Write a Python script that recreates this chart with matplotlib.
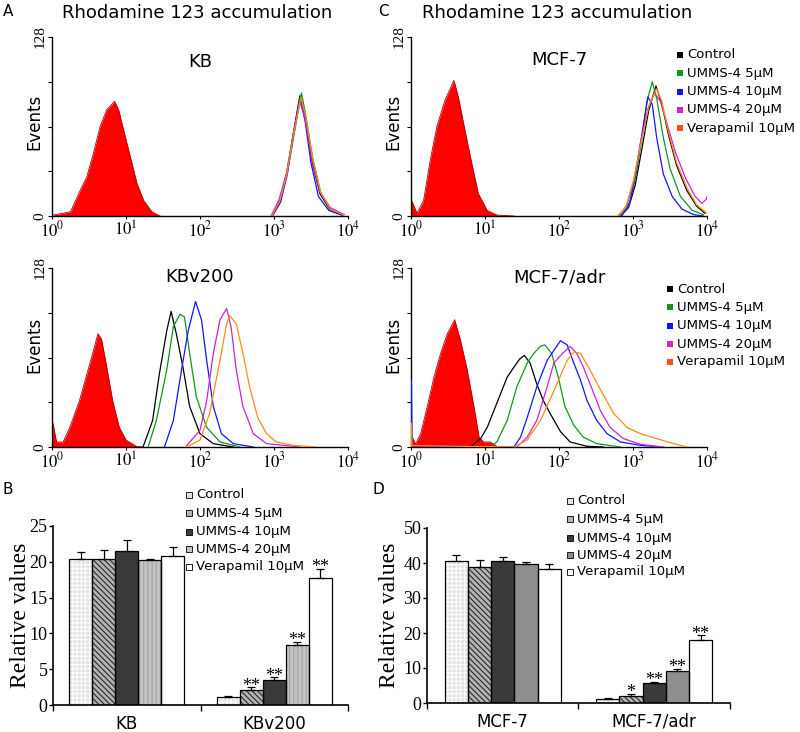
import matplotlib
matplotlib.use("Agg")
import matplotlib.pyplot as plt
from matplotlib.patches import Rectangle
from matplotlib.ticker import NullLocator
import numpy as np

plt.rcParams['font.family'] = ['DejaVu Sans']
plt.rcParams['mathtext.fontset'] = 'stix'
plt.rcParams['hatch.linewidth'] = 0.8

# ---------------- data ----------------
series_names = ["Control", "UMMS-4 5\u03bcM", "UMMS-4 10\u03bcM", "UMMS-4 20\u03bcM", "Verapamil 10\u03bcM"]
x_tick_labels = ["$10^{0}$", "$10^{1}$", "$10^{2}$", "$10^{3}$", "$10^{4}$"]

# Histograms: (log10 fluorescence, events)
KB_red = ([0.0, 0.02, 0.25, 0.36, 0.47, 0.56, 0.65, 0.74, 0.845, 0.9, 0.97, 1.06, 1.15, 1.24, 1.35, 1.46],
          [0, 0.7, 3, 16, 28, 45, 64, 76, 82, 76, 61, 42, 23, 11, 3, 0])
KB_ctrl = ([2.97, 3.08, 3.17, 3.26, 3.35, 3.42, 3.51, 3.62, 3.75, 3.93], [0, 11, 30, 59, 86, 71, 40, 16, 5, 0.7])
KB_5 = ([2.97, 3.08, 3.17, 3.27, 3.37, 3.43, 3.52, 3.63, 3.76, 3.93], [0, 10, 28, 58, 88, 72, 42, 17, 5, 0.5])
KB_10 = ([2.98, 3.09, 3.18, 3.27, 3.35, 3.42, 3.50, 3.60, 3.74, 3.92], [0, 10, 30, 60, 84, 68, 38, 14, 4, 0.5])
KB_20 = ([2.96, 3.07, 3.17, 3.26, 3.35, 3.42, 3.51, 3.62, 3.76, 3.95], [0, 12, 31, 58, 82, 70, 41, 17, 6, 1])
KB_vera = ([2.97, 3.08, 3.17, 3.26, 3.36, 3.43, 3.52, 3.63, 3.76, 3.94], [0, 11, 29, 57, 85, 71, 42, 17, 5, 0.8])

KBv_red = ([0.0, 0.014, 0.06, 0.15, 0.24, 0.37, 0.46, 0.55, 0.62, 0.67, 0.73, 0.82, 0.91, 1.0, 1.14, 1.23],
           [0, 17, 3.6, 3.6, 14, 33, 50, 67, 81, 77, 60, 33, 14, 5, 0.5, 0])
KBv_ctrl = ([1.23, 1.36, 1.45, 1.55, 1.61, 1.68, 1.77, 1.86, 2.0, 2.18, 2.45], [0, 19, 52, 83, 97, 81, 57, 29, 9.5, 2.4, 0])
KBv_5 = ([1.30, 1.41, 1.55, 1.64, 1.73, 1.79, 1.86, 1.95, 2.09, 2.27, 2.54], [0, 19, 55, 86, 95, 93, 67, 36, 14, 3.6, 0])
KBv_10 = ([1.52, 1.64, 1.75, 1.84, 1.94, 2.02, 2.09, 2.18, 2.29, 2.45, 2.72], [0, 19, 55, 83, 104, 91, 62, 29, 9.5, 2.4, 0])
KBv_20 = ([1.82, 2.0, 2.09, 2.18, 2.27, 2.36, 2.42, 2.49, 2.58, 2.72, 2.9, 3.35], [1, 12, 33, 67, 91, 99, 86, 55, 29, 9.5, 2.4, 0])
KBv_vera = ([1.82, 2.0, 2.13, 2.27, 2.36, 2.40, 2.49, 2.58, 2.67, 2.78, 2.9, 3.03, 3.26, 3.57],
            [0, 5, 24, 62, 88, 94, 88, 67, 43, 21, 9.5, 3.6, 1.2, 0])

MCF_red = ([0.0, 0.01, 0.08, 0.17, 0.26, 0.35, 0.46, 0.58, 0.64, 0.73, 0.82, 0.91, 1.03, 1.16, 1.39],
           [0, 11, 2, 11, 40, 64, 83, 97, 85, 61, 38, 16, 4, 0.7, 0])
MCF_ctrl = ([2.83, 2.94, 3.03, 3.12, 3.21, 3.31, 3.39, 3.48, 3.59, 3.73, 3.86, 3.97], [0, 6, 22, 48, 75, 93, 80, 58, 36, 18, 7, 2])
MCF_5 = ([2.83, 2.94, 3.03, 3.12, 3.19, 3.26, 3.32, 3.41, 3.5, 3.64, 3.80, 3.95], [0, 7, 26, 55, 82, 96, 84, 56, 34, 14, 4, 1])
MCF_10 = ([2.85, 2.96, 3.05, 3.14, 3.2, 3.26, 3.32, 3.41, 3.53, 3.66, 3.82, 3.95], [0, 10, 35, 65, 85, 80, 56, 30, 14, 5, 1, 0])
MCF_20 = ([2.81, 2.92, 3.01, 3.1, 3.21, 3.29, 3.37, 3.46, 3.57, 3.71, 3.84, 3.93, 3.99, 4.0],
          [0, 8, 25, 52, 78, 88, 82, 66, 46, 27, 14, 9, 12, 14])
MCF_vera = ([2.79, 2.9, 3.01, 3.1, 3.21, 3.32, 3.39, 3.48, 3.59, 3.73, 3.86, 4.0], [0, 6, 26, 50, 78, 91, 82, 60, 38, 20, 8, 2])

ADR_red = ([0.0, 0.01, 0.06, 0.13, 0.22, 0.31, 0.40, 0.49, 0.59, 0.67, 0.76, 0.85, 0.92, 0.98, 1.07, 1.16, 1.25],
           [0, 8, 2, 9.5, 29, 50, 67, 81, 91, 76, 55, 29, 7, 3.6, 3.6, 0.5, 0])
ADR_ctrl = ([0.8, 0.94, 1.03, 1.12, 1.21, 1.30, 1.39, 1.47, 1.53, 1.61, 1.70, 1.79, 1.88, 2.02, 2.15, 2.38, 2.6],
            [0, 6, 14, 26, 38, 50, 57, 63, 65.5, 60, 45, 33, 24, 11, 3.6, 0.5, 0])
ADR_5 = ([1.07, 1.16, 1.30, 1.43, 1.57, 1.66, 1.75, 1.81, 1.90, 1.99, 2.08, 2.2, 2.33, 2.51, 2.83],
         [0, 3.6, 19, 43, 60, 67, 72, 73, 67, 50, 29, 15.5, 7, 2.4, 0])
ADR_10 = ([0.0, 0.005, 0.015, 1.39, 1.48, 1.57, 1.70, 1.84, 1.93, 2.02, 2.11, 2.2, 2.29, 2.38, 2.51, 2.65, 2.83, 3.1, 3.37],
          [0, 48, 1, 0, 7, 21, 43, 62, 69, 76, 73, 60, 48, 33, 19, 9.5, 3.6, 1.2, 0])
ADR_20 = ([1.43, 1.57, 1.70, 1.84, 1.93, 2.05, 2.15, 2.24, 2.33, 2.45, 2.56, 2.69, 2.87, 3.1, 3.41],
          [0, 7, 19, 43, 60, 67, 72, 67, 57, 41, 26, 14, 6, 1.9, 0])
ADR_vera = ([0.0, 0.005, 0.015, 1.39, 1.57, 1.75, 1.93, 2.11, 2.2, 2.29, 2.42, 2.56, 2.74, 2.92, 3.1, 3.32, 3.55, 3.73],
            [0, 17, 1, 0, 5, 19, 40, 62, 68, 67, 55, 41, 24, 14, 9.5, 6, 2.4, 0])

# Bar charts
groups_B = ["KB", "KBv200"]
vals_B = [[20.4, 1.1], [20.4, 2.1], [21.5, 3.45], [20.3, 8.4], [20.8, 17.8]]
errs_B = [[0.9, 0.15], [1.2, 0.4], [1.5, 0.45], [0.15, 0.45], [1.2, 1.2]]
stars_B = [["", ""], ["", "**"], ["", "**"], ["", "**"], ["", "**"]]

groups_D = ["MCF-7", "MCF-7/adr"]
vals_D = [[40.7, 1.1], [38.9, 1.9], [40.7, 5.7], [39.7, 9.2], [38.3, 18.1]]
errs_D = [[1.7, 0.2], [1.9, 0.8], [0.9, 0.4], [0.7, 0.6], [1.4, 1.2]]
stars_D = [["", ""], ["", "*"], ["", "**"], ["", "**"], ["", "**"]]

# ---------------- styles ----------------
line_colors = ["#000000", "#11961b", "#1414ff", "#cc22cc", "#ff8c10"]
legend_colors = ["#000000", "#11961b", "#1414ff", "#dd22bb", "#ff4a1a"]

W, H = 800, 732
fig = plt.figure(figsize=(W / 100, H / 100), dpi=100)
fig.patch.set_facecolor("white")


def ax_px(l, t, r, b):
    return fig.add_axes([l / W, 1 - b / H, (r - l) / W, (b - t) / H])


def fx(x):
    return x / W


def fy(y):
    return 1 - y / H


def hist_panel(box, red, curves, title, title_y, events_y):
    ax = ax_px(*box)
    ax.set_xscale("log")
    ax.set_xlim(1, 1e4)
    ax.set_ylim(0, 128)
    rx = 10 ** np.array(red[0])
    ax.fill_between(rx, red[1], 0, color="#ff0000", lw=0, zorder=2)
    ax.plot(rx, red[1], color="#b00000", lw=0.6, zorder=2)
    for (cx, cy), col in zip(curves, line_colors):
        ax.plot(10 ** np.array(cx), cy, color=col, lw=0.9, zorder=3)
    for s in ["top", "right"]:
        ax.spines[s].set_visible(False)
    for s in ["left", "bottom"]:
        ax.spines[s].set_linewidth(1.0)
    ax.set_yticks([0, 128])
    ax.set_yticklabels(["0", "128"], rotation=90, va="center", family="Liberation Serif", fontsize=11)
    ax.set_yticks([32, 64, 96], minor=True)
    ax.tick_params(axis="y", which="both", direction="out", length=3, width=0.8, pad=1)
    ax.set_xticks([1, 10, 100, 1000, 10000])
    ax.set_xticklabels(x_tick_labels, fontsize=12)
    ax.xaxis.set_minor_locator(NullLocator())
    ax.tick_params(axis="x", direction="out", length=2, width=0.8, pad=1)
    ax.text(0.5, title_y, title, transform=ax.transAxes, ha="center", va="center", fontsize=13)
    ax.text(-0.058, events_y, "Events", transform=ax.transAxes, ha="center", va="center",
            rotation=90, fontsize=12)
    return ax


hist_panel((52, 37, 348, 216), KB_red, [KB_ctrl, KB_5, KB_10, KB_20, KB_vera], "KB", 0.86, 0.525)
hist_panel((52, 268, 348, 447), KBv_red, [KBv_ctrl, KBv_5, KBv_10, KBv_20, KBv_vera], "KBv200", 0.95, 0.57)
hist_panel((411, 37, 707, 216), MCF_red, [MCF_ctrl, MCF_5, MCF_10, MCF_20, MCF_vera], "MCF-7", 0.87, 0.525)
hist_panel((411, 268, 707, 447), ADR_red, [ADR_ctrl, ADR_5, ADR_10, ADR_20, ADR_vera], "MCF-7/adr", 0.945, 0.57)

fig.text(fx(197), fy(13), "Rhodamine 123 accumulation", ha="center", va="center", fontsize=13)
fig.text(fx(557), fy(13), "Rhodamine 123 accumulation", ha="center", va="center", fontsize=13)
for lab, x, y in [("A", 8, 11), ("C", 383, 11), ("B", 8, 489), ("D", 378, 489)]:
    fig.text(fx(x), fy(y), lab, ha="center", va="center", fontsize=11)


def color_legend(x_sq, x_txt, ys, size=6):
    for name, col, y in zip(series_names, legend_colors, ys):
        fig.add_artist(Rectangle((fx(x_sq), fy(y + size / 2)), size / W, size / H,
                                 transform=fig.transFigure, facecolor=col, edgecolor="none"))
        fig.text(fx(x_txt), fy(y), name, ha="left", va="center", fontsize=9.5)


color_legend(677, 687, [55, 73.3, 91.7, 110, 128.3])
color_legend(667, 677, [289, 307.3, 326, 344.3, 361.7])

# ---------------- bar charts ----------------
bar_styles_B = [
    dict(face="#e2e2e2", hatch="++++", hc="#ffffff"),
    dict(face="#b4b4b4", hatch="\\\\\\\\\\\\", hc="#2a2a2a"),
    dict(face="#3a3a3a", hatch=None, hc="#3a3a3a"),
    dict(face="#c4c4c4", hatch="||||", hc="#a0a0a0"),
    dict(face="#ffffff", hatch=None, hc="#ffffff"),
]
bar_styles_D = [
    dict(face="#e2e2e2", hatch="++++", hc="#ffffff"),
    dict(face="#b4b4b4", hatch="\\\\\\\\\\\\", hc="#2a2a2a"),
    dict(face="#3a3a3a", hatch=None, hc="#3a3a3a"),
    dict(face="#8e8e8e", hatch=None, hc="#8e8e8e"),
    dict(face="#ffffff", hatch=None, hc="#ffffff"),
]


def bar_panel(box, groups, vals, errs, stars, ymax, ystep, styles, ylabel_x, width, leg_xsq, leg_xtxt, leg_ys):
    ax = ax_px(*box)
    x = np.arange(len(groups))
    for i, (v, e, st, sty) in enumerate(zip(vals, errs, stars, styles)):
        xi = x + (i - 2) * width
        ax.bar(xi, v, width, color=sty["face"], hatch=sty["hatch"], edgecolor=sty["hc"], lw=0, zorder=2)
        ax.bar(xi, v, width, fill=False, edgecolor="black", lw=0.9, zorder=3)
        ax.errorbar(xi, v, yerr=[np.zeros(len(v)), e], fmt="none", ecolor="black",
                    elinewidth=0.9, capsize=3, capthick=0.9, zorder=4)
        for xx, vv, ee, s in zip(xi, v, e, st):
            if s:
                ax.annotate(s, (xx, vv + ee), xytext=(0, -2.5), textcoords="offset points",
                            ha="center", va="baseline", fontsize=13, family="Liberation Serif")
    ax.set_xlim(-0.5, 1.5)
    ax.set_ylim(0, ymax)
    for s in ["top", "right"]:
        ax.spines[s].set_visible(False)
    for s in ["left", "bottom"]:
        ax.spines[s].set_linewidth(1.2)
    ax.set_yticks(np.arange(0, ymax + 0.1, ystep))
    ax.set_yticklabels([f"{int(t)}" for t in np.arange(0, ymax + 0.1, ystep)],
                       family="Liberation Serif", fontsize=13)
    ax.tick_params(axis="y", direction="out", length=3, width=1, pad=1)
    ax.set_xticks(x)
    ax.set_xticklabels(groups, fontsize=12)
    ax.tick_params(axis="x", which="major", length=0, pad=7)
    ax.set_xticks([-0.5, 0.5, 1.5], minor=True)
    ax.tick_params(axis="x", which="minor", direction="out", length=4, width=1)
    ax.text(ylabel_x, 0.5, "Relative values", transform=ax.transAxes, rotation=90,
            ha="center", va="center", family="Liberation Serif", fontsize=17)
    for name, sty, y in zip(series_names, styles, leg_ys):
        sz = 6
        fig.add_artist(Rectangle((fx(leg_xsq), fy(y + sz / 2)), sz / W, sz / H, transform=fig.transFigure,
                                 facecolor=sty["face"], edgecolor="black", lw=0.6))
        fig.text(fx(leg_xtxt), fy(y), name, ha="left", va="center", fontsize=9.5)
    return ax


bar_panel((53, 526, 348, 705), groups_B, vals_B, errs_B, stars_B, 25, 5, bar_styles_B,
          -0.11, 0.156, 186, 196, [495, 513.3, 531.7, 549, 566.7])
bar_panel((427, 528, 730, 703), groups_D, vals_D, errs_D, stars_D, 50, 10, bar_styles_D,
          -0.125, 0.153, 567, 577, [500.7, 519.3, 538.3, 555, 571.7])

fig.savefig("out.png", dpi=100, facecolor="white")
